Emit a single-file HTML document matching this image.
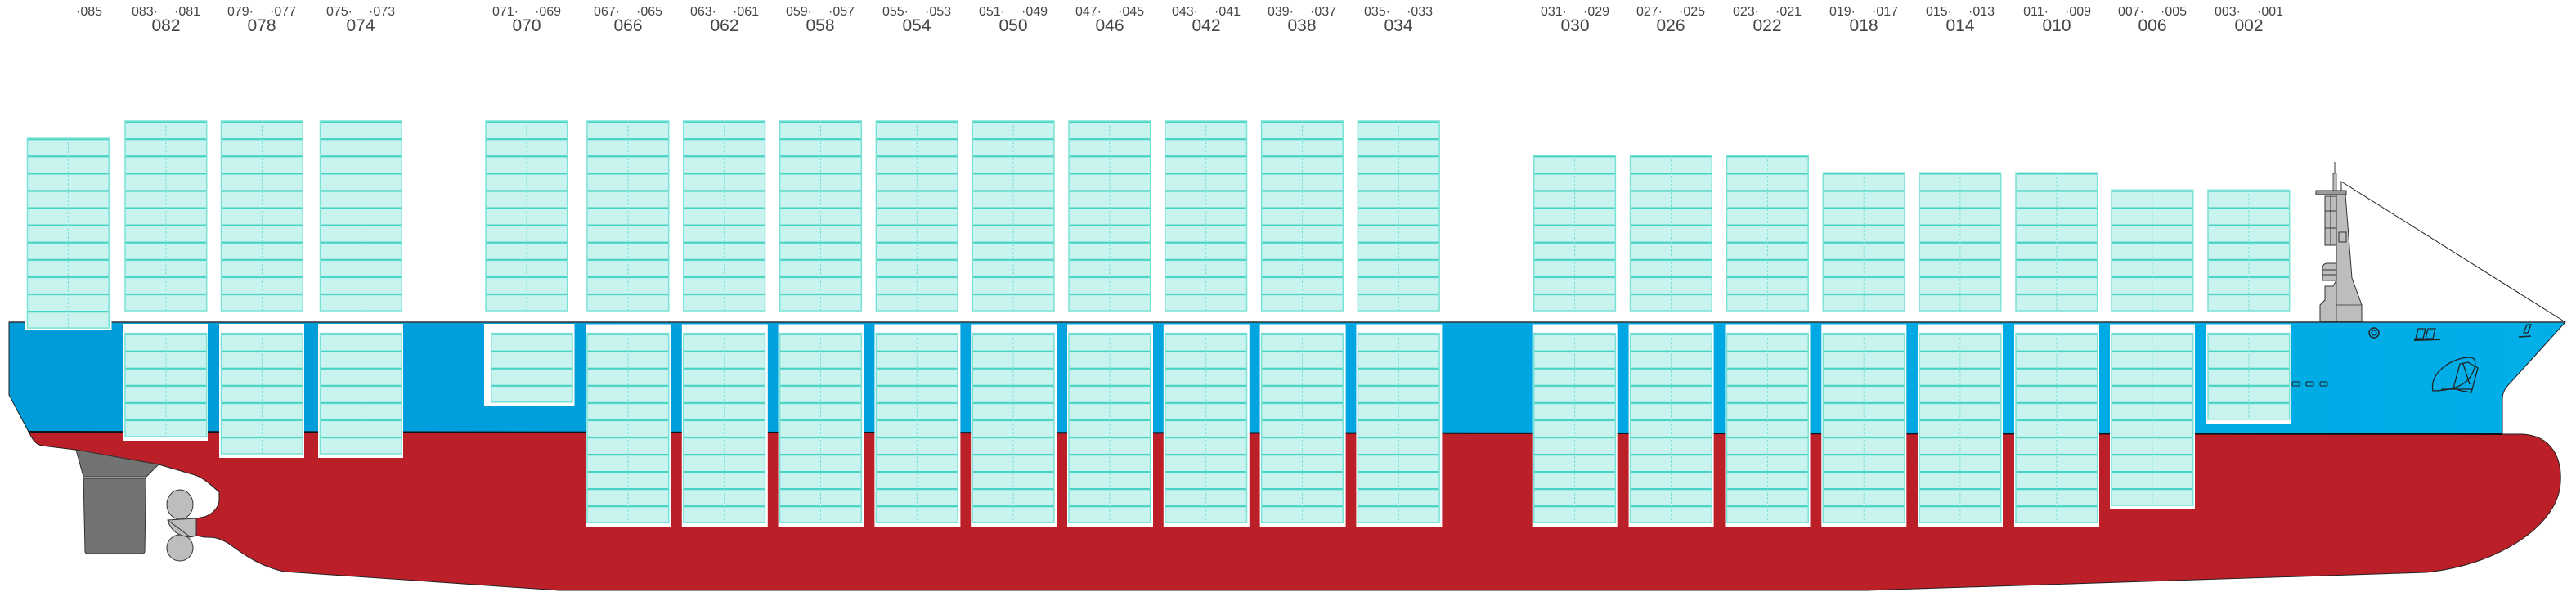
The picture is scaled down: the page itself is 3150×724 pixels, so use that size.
<!DOCTYPE html>
<html><head><meta charset="utf-8"><style>
html,body{margin:0;padding:0;background:#fff;}
svg{display:block;}
text{font-family:"Liberation Sans",sans-serif;fill:#444;}
.s{font-size:16px;}
.b{font-size:21px;text-anchor:middle;}
.r{text-anchor:end;}
</style></head><body>
<svg width="3150" height="724" viewBox="0 0 3150 724" xmlns="http://www.w3.org/2000/svg">
<defs>
<pattern id="pu" patternUnits="userSpaceOnUse" x="0" y="148" width="200" height="21.09">
<rect width="200" height="21.09" fill="#c9f3ee"/><rect width="200" height="2.2" fill="#45d3c3"/>
</pattern>
<pattern id="pl" patternUnits="userSpaceOnUse" x="0" y="407.6" width="200" height="21.05">
<rect width="200" height="21.05" fill="#c9f3ee"/><rect width="200" height="2.2" fill="#45d3c3"/>
</pattern>
<linearGradient id="bl" x1="0" x2="1" y1="0" y2="0"><stop offset="0" stop-color="#009bd9"/><stop offset="1" stop-color="#00aee8"/></linearGradient>
</defs>

<!-- blue hull -->
<path d="M11,394 L3137,394 L3068,470 Q3060,478 3060,488 L3060,531 L35,528 L11,483 Z" fill="url(#bl)" stroke="#222" stroke-width="1"/>
<!-- red hull -->
<path d="M35,528 L3060,531 L3085,531 C3120,533 3133,560 3131,590 C3129,640 3060,690 2967,700 L2283,722 L684,722 L347,699 C320,693 300,680 280,665 C265,656 258,657 250,657 L240,655 L240,634 L250,632 C262,628 268,618 268,612 L268,602 C255,590 245,582 235,580 L194,568 L92,550 L51,545 C43,543 40,538 35,528 Z" fill="#bb2029" stroke="#222" stroke-width="1"/>
<line x1="11" y1="394" x2="3137" y2="394" stroke="#333" stroke-width="1.5"/>
<line x1="35" y1="528" x2="3060" y2="531" stroke="#111" stroke-width="2"/>

<!-- rudder -->
<path d="M93,550 L194,568 L179,583 L102,583 Z" fill="#737373" stroke="#333" stroke-width="1"/>
<path d="M102,585 L178.5,585 L177,674 Q177,677 174,677 L107,677 Q104,677 104,674 Z" fill="#737373" stroke="#333" stroke-width="1"/>
<!-- propeller -->
<ellipse cx="220" cy="617" rx="16" ry="18" fill="#bdbdbd" stroke="#333"/>
<ellipse cx="220" cy="670" rx="16" ry="16" fill="#bdbdbd" stroke="#333"/>
<path d="M205,636 Q210,655 233,657 L240,655 L240,634 Z" fill="#bdbdbd" stroke="#333"/>
<path d="M205,636 L233,657" stroke="#333"/>

<!-- mast -->
<line x1="2855" y1="198" x2="2855" y2="212" stroke="#333"/>
<rect x="2853" y="212" width="4" height="21" fill="#bdbdbd" stroke="#333" stroke-width="0.8"/>
<path d="M2863,238 L2863,222 L3137,394" fill="none" stroke="#222" stroke-width="1"/>
<rect x="2832" y="233" width="37" height="5" fill="#999" stroke="#333"/>
<path d="M2857,238 L2868,238 L2876,340 L2888,373 L2888,393 L2837,393 L2837,373 L2843,367 L2843,350 L2853,350 L2857,343 Z" fill="#bdbdbd" stroke="#333"/>
<path d="M2857,238 L2857,393" stroke="#333" stroke-width="0.8"/>
<rect x="2843" y="240" width="14" height="60" fill="#bdbdbd" stroke="#333"/>
<line x1="2850" y1="240" x2="2850" y2="300" stroke="#333"/>
<line x1="2843" y1="258" x2="2857" y2="258" stroke="#333"/><line x1="2843" y1="279" x2="2857" y2="279" stroke="#333"/>
<rect x="2860" y="284" width="9" height="12" fill="#bdbdbd" stroke="#333"/>
<path d="M2857,322 L2845,322 Q2840,323 2840,328 L2840,343 L2857,343" fill="#bdbdbd" stroke="#333"/>
<line x1="2840" y1="330" x2="2857" y2="330" stroke="#333"/><line x1="2840" y1="336" x2="2857" y2="336" stroke="#333"/>
<line x1="2857" y1="373" x2="2888" y2="373" stroke="#333" stroke-width="0.8"/>

<!-- bow details -->
<circle cx="2903" cy="407" r="6" fill="none" stroke="#222" stroke-width="1.5"/><circle cx="2903" cy="407" r="3" fill="none" stroke="#222"/>
<path d="M2957,402 l9,0 l-3,12 l-9,0 Z M2969,402 l9,0 l-3,12 l-9,0 Z" fill="none" stroke="#222" stroke-width="1.3"/>
<line x1="2952" y1="416" x2="2984" y2="415" stroke="#222" stroke-width="2"/>
<path d="M3090,397 l5,0 l-4,10 l-5,0 Z" fill="none" stroke="#222" stroke-width="1.3"/>
<line x1="3080" y1="412" x2="3095" y2="411" stroke="#222" stroke-width="1.5"/>
<rect x="2803" y="467" width="9" height="5" rx="1" fill="none" stroke="#222"/>
<rect x="2820" y="467" width="9" height="5" rx="1" fill="none" stroke="#222"/>
<rect x="2837" y="467" width="9" height="5" rx="1" fill="none" stroke="#222"/>
<path d="M2975,478 C2970,455 3000,437 3020,437 C3030,437 3028,450 3020,462 C3010,475 2990,478 2975,478 Z" fill="none" stroke="#222" stroke-width="1.3"/>
<path d="M3000,475 L3008,445 L3018,443 L3030,450 L3022,480 L3010,478 Z M3012,445 L3020,470 M2985,476 L3023,476" fill="none" stroke="#222" stroke-width="1.3"/>

<!-- lower hold white boxes -->
<g fill="#fff">
<rect x="150" y="396" width="104" height="143"/>
<rect x="268" y="396" width="104" height="164"/>
<rect x="389" y="396" width="104" height="164"/>
<rect x="592" y="396" width="110.5" height="101"/>
<rect x="716" y="396.5" width="105" height="248"/>
<rect x="833.8" y="396.5" width="105" height="248"/>
<rect x="951.6" y="396.5" width="105" height="248"/>
<rect x="1069.4" y="396.5" width="105" height="248"/>
<rect x="1187.2" y="396.5" width="105" height="248"/>
<rect x="1305" y="396.5" width="105" height="248"/>
<rect x="1422.8" y="396.5" width="105" height="248"/>
<rect x="1540.6" y="396.5" width="105" height="248"/>
<rect x="1658.4" y="396.5" width="105" height="248"/>
<rect x="1873.7" y="396.5" width="104" height="248"/>
<rect x="1991.6" y="396.5" width="104" height="248"/>
<rect x="2109.5" y="396.5" width="104" height="248"/>
<rect x="2227.3" y="396.5" width="104" height="248"/>
<rect x="2345" y="396.5" width="104" height="248"/>
<rect x="2463" y="396.5" width="104" height="248"/>
<rect x="2580" y="396.5" width="104" height="226"/>
<rect x="2698" y="396.5" width="104" height="122"/>
<rect x="30.5" y="390" width="106" height="13.5"/>
</g>
<!-- lower stacks -->
<g fill="url(#pl)" stroke="#78e2d6" stroke-width="1.5">
<rect x="153" y="407.6" width="99.7" height="126.3"/>
<rect x="270.5" y="407.6" width="99.7" height="147.4"/>
<rect x="391.5" y="407.6" width="99.7" height="147.4"/>
<rect x="600.7" y="407.6" width="99.3" height="84.2"/>
<rect x="718" y="407.6" width="99.7" height="231.6"/>
<rect x="835.8" y="407.6" width="99.7" height="231.6"/>
<rect x="953.6" y="407.6" width="99.7" height="231.6"/>
<rect x="1071.4" y="407.6" width="99.7" height="231.6"/>
<rect x="1189.2" y="407.6" width="99.7" height="231.6"/>
<rect x="1307" y="407.6" width="99.7" height="231.6"/>
<rect x="1424.8" y="407.6" width="99.7" height="231.6"/>
<rect x="1542.6" y="407.6" width="99.7" height="231.6"/>
<rect x="1660.4" y="407.6" width="99.7" height="231.6"/>
<rect x="1875.7" y="407.6" width="99.7" height="231.6"/>
<rect x="1993.6" y="407.6" width="99.7" height="231.6"/>
<rect x="2111.5" y="407.6" width="99.7" height="231.6"/>
<rect x="2229.3" y="407.6" width="99.7" height="231.6"/>
<rect x="2347" y="407.6" width="99.7" height="231.6"/>
<rect x="2465" y="407.6" width="99.7" height="231.6"/>
<rect x="2582" y="407.6" width="99.7" height="210.5"/>
<rect x="2700" y="407.6" width="99.7" height="105.2"/>
</g>
<!-- upper stacks -->
<g fill="url(#pu)" stroke="#78e2d6" stroke-width="1.5">
<rect x="33.5" y="169.1" width="99.7" height="232"/>
<rect x="153" y="148" width="99.7" height="232"/>
<rect x="270.5" y="148" width="99.7" height="232"/>
<rect x="391.5" y="148" width="99.7" height="232"/>
<rect x="594" y="148" width="99.7" height="232"/>
<rect x="718" y="148" width="99.7" height="232"/>
<rect x="835.8" y="148" width="99.7" height="232"/>
<rect x="953.6" y="148" width="99.7" height="232"/>
<rect x="1071.4" y="148" width="99.7" height="232"/>
<rect x="1189.2" y="148" width="99.7" height="232"/>
<rect x="1307" y="148" width="99.7" height="232"/>
<rect x="1424.8" y="148" width="99.7" height="232"/>
<rect x="1542.6" y="148" width="99.7" height="232"/>
<rect x="1660.4" y="148" width="99.7" height="232"/>
<rect x="1875.7" y="190.2" width="99.7" height="189.8"/>
<rect x="1993.6" y="190.2" width="99.7" height="189.8"/>
<rect x="2111.5" y="190.2" width="99.7" height="189.8"/>
<rect x="2229.3" y="211.3" width="99.7" height="168.7"/>
<rect x="2347" y="211.3" width="99.7" height="168.7"/>
<rect x="2465" y="211.3" width="99.7" height="168.7"/>
<rect x="2582" y="232.4" width="99.7" height="147.6"/>
<rect x="2700" y="232.4" width="99.7" height="147.6"/>
</g>
<!-- center dividers -->
<g stroke="#7fe0d4" stroke-width="1" stroke-dasharray="3,2">
<line x1="83.4" y1="169" x2="83.4" y2="401"/>
<line x1="202.9" y1="148" x2="202.9" y2="380"/><line x1="202.9" y1="408" x2="202.9" y2="534"/>
<line x1="320.4" y1="148" x2="320.4" y2="380"/><line x1="320.4" y1="408" x2="320.4" y2="555"/>
<line x1="441.4" y1="148" x2="441.4" y2="380"/><line x1="441.4" y1="408" x2="441.4" y2="555"/>
<line x1="643.9" y1="148" x2="643.9" y2="380"/><line x1="650.4" y1="408" x2="650.4" y2="492"/>
<line x1="767.9" y1="148" x2="767.9" y2="380"/><line x1="767.9" y1="408" x2="767.9" y2="639"/>
<line x1="885.7" y1="148" x2="885.7" y2="380"/><line x1="885.7" y1="408" x2="885.7" y2="639"/>
<line x1="1003.5" y1="148" x2="1003.5" y2="380"/><line x1="1003.5" y1="408" x2="1003.5" y2="639"/>
<line x1="1121.3" y1="148" x2="1121.3" y2="380"/><line x1="1121.3" y1="408" x2="1121.3" y2="639"/>
<line x1="1239.1" y1="148" x2="1239.1" y2="380"/><line x1="1239.1" y1="408" x2="1239.1" y2="639"/>
<line x1="1356.9" y1="148" x2="1356.9" y2="380"/><line x1="1356.9" y1="408" x2="1356.9" y2="639"/>
<line x1="1474.7" y1="148" x2="1474.7" y2="380"/><line x1="1474.7" y1="408" x2="1474.7" y2="639"/>
<line x1="1592.5" y1="148" x2="1592.5" y2="380"/><line x1="1592.5" y1="408" x2="1592.5" y2="639"/>
<line x1="1710.3" y1="148" x2="1710.3" y2="380"/><line x1="1710.3" y1="408" x2="1710.3" y2="639"/>
<line x1="1925.6" y1="190" x2="1925.6" y2="380"/><line x1="1925.6" y1="408" x2="1925.6" y2="639"/>
<line x1="2043.5" y1="190" x2="2043.5" y2="380"/><line x1="2043.5" y1="408" x2="2043.5" y2="639"/>
<line x1="2161.4" y1="190" x2="2161.4" y2="380"/><line x1="2161.4" y1="408" x2="2161.4" y2="639"/>
<line x1="2279.2" y1="211" x2="2279.2" y2="380"/><line x1="2279.2" y1="408" x2="2279.2" y2="639"/>
<line x1="2396.9" y1="211" x2="2396.9" y2="380"/><line x1="2396.9" y1="408" x2="2396.9" y2="639"/>
<line x1="2514.9" y1="211" x2="2514.9" y2="380"/><line x1="2514.9" y1="408" x2="2514.9" y2="639"/>
<line x1="2631.9" y1="232" x2="2631.9" y2="380"/><line x1="2631.9" y1="408" x2="2631.9" y2="618"/>
<line x1="2749.9" y1="232" x2="2749.9" y2="380"/><line x1="2749.9" y1="408" x2="2749.9" y2="513"/>
</g>

<!-- labels -->
<g>
<text class="s" x="93" y="19">·085</text>
<text class="s r" x="193" y="19">083·</text><text class="s" x="213" y="19">·081</text><text class="b" x="203" y="38">082</text>
<text class="s r" x="310" y="19">079·</text><text class="s" x="330" y="19">·077</text><text class="b" x="320" y="38">078</text>
<text class="s r" x="431" y="19">075·</text><text class="s" x="451" y="19">·073</text><text class="b" x="441" y="38">074</text>
<text class="s r" x="634" y="19">071·</text><text class="s" x="654" y="19">·069</text><text class="b" x="644" y="38">070</text>
<text class="s r" x="758" y="19">067·</text><text class="s" x="778" y="19">·065</text><text class="b" x="768" y="38">066</text>
<text class="s r" x="876" y="19">063·</text><text class="s" x="896" y="19">·061</text><text class="b" x="886" y="38">062</text>
<text class="s r" x="993" y="19">059·</text><text class="s" x="1013" y="19">·057</text><text class="b" x="1003" y="38">058</text>
<text class="s r" x="1111" y="19">055·</text><text class="s" x="1131" y="19">·053</text><text class="b" x="1121" y="38">054</text>
<text class="s r" x="1229" y="19">051·</text><text class="s" x="1249" y="19">·049</text><text class="b" x="1239" y="38">050</text>
<text class="s r" x="1347" y="19">047·</text><text class="s" x="1367" y="19">·045</text><text class="b" x="1357" y="38">046</text>
<text class="s r" x="1465" y="19">043·</text><text class="s" x="1485" y="19">·041</text><text class="b" x="1475" y="38">042</text>
<text class="s r" x="1582" y="19">039·</text><text class="s" x="1602" y="19">·037</text><text class="b" x="1592" y="38">038</text>
<text class="s r" x="1700" y="19">035·</text><text class="s" x="1720" y="19">·033</text><text class="b" x="1710" y="38">034</text>
<text class="s r" x="1916" y="19">031·</text><text class="s" x="1936" y="19">·029</text><text class="b" x="1926" y="38">030</text>
<text class="s r" x="2033" y="19">027·</text><text class="s" x="2053" y="19">·025</text><text class="b" x="2043" y="38">026</text>
<text class="s r" x="2151" y="19">023·</text><text class="s" x="2171" y="19">·021</text><text class="b" x="2161" y="38">022</text>
<text class="s r" x="2269" y="19">019·</text><text class="s" x="2289" y="19">·017</text><text class="b" x="2279" y="38">018</text>
<text class="s r" x="2387" y="19">015·</text><text class="s" x="2407" y="19">·013</text><text class="b" x="2397" y="38">014</text>
<text class="s r" x="2505" y="19">011·</text><text class="s" x="2525" y="19">·009</text><text class="b" x="2515" y="38">010</text>
<text class="s r" x="2622" y="19">007·</text><text class="s" x="2642" y="19">·005</text><text class="b" x="2632" y="38">006</text>
<text class="s r" x="2740" y="19">003·</text><text class="s" x="2760" y="19">·001</text><text class="b" x="2750" y="38">002</text>
</g>
</svg>
</body></html>
